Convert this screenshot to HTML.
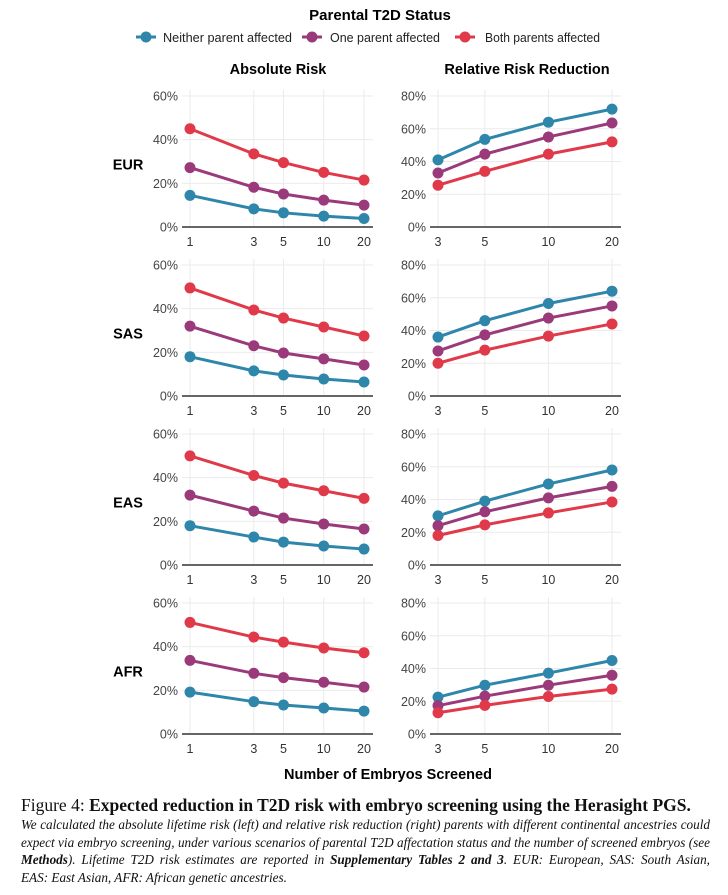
<!DOCTYPE html>
<html><head><meta charset="utf-8"><style>
body{margin:0;background:#fff;width:728px;height:895px;overflow:hidden;font-family:"Liberation Sans",sans-serif}
#cap{position:absolute;left:21px;top:794px;width:689px;font-family:"Liberation Serif",serif;color:#111}
#cap .t{font-size:17.5px;line-height:22px}
#cap .d{font-size:13.2px;font-style:italic;line-height:17.6px;white-space:nowrap}
#cap .j{text-align:justify;text-align-last:justify}
</style></head><body>
<svg id="chart" width="728" height="790" style="position:absolute;left:0;top:0" font-family="Liberation Sans, sans-serif">
<text x="380" y="20" text-anchor="middle" font-size="15" font-weight="bold">Parental T2D Status</text>
<g font-size="13" fill="#222">
 <g><line x1="136" y1="37" x2="156" y2="37" stroke="#2e86ab" stroke-width="3"/><circle cx="146" cy="37" r="5.5" fill="#2e86ab"/><text x="163" y="42" textLength="129" lengthAdjust="spacingAndGlyphs">Neither parent affected</text></g>
 <g><line x1="302" y1="37" x2="322" y2="37" stroke="#9b3a7b" stroke-width="3"/><circle cx="312" cy="37" r="5.5" fill="#9b3a7b"/><text x="330" y="42" textLength="110" lengthAdjust="spacingAndGlyphs">One parent affected</text></g>
 <g><line x1="455" y1="37" x2="475" y2="37" stroke="#e03a4a" stroke-width="3"/><circle cx="465" cy="37" r="5.5" fill="#e03a4a"/><text x="485" y="42" textLength="115" lengthAdjust="spacingAndGlyphs">Both parents affected</text></g>
</g>
<text x="278" y="74" text-anchor="middle" font-size="14.5" font-weight="bold">Absolute Risk</text>
<text x="527" y="74" text-anchor="middle" font-size="14.5" font-weight="bold">Relative Risk Reduction</text>
<text x="388" y="779" text-anchor="middle" font-size="14.5" font-weight="bold">Number of Embryos Screened</text>
<g id="plots"></g>
</svg>
<div id="cap">
<div class="t">Figure 4: <b>Expected reduction in T2D risk with embryo screening using the Herasight PGS.</b></div>
<div>
<div class="d j">We calculated the absolute lifetime risk (left) and relative risk reduction (right) parents with different continental ancestries could</div>
<div class="d j">expect via embryo screening, under various scenarios of parental T2D affectation status and the number of screened embryos (see</div>
<div class="d j"><b>Methods</b>). Lifetime T2D risk estimates are reported in <b>Supplementary Tables 2 and 3</b>. EUR: European, SAS: South Asian,</div>
<div class="d">EAS: East Asian, AFR: African genetic ancestries.</div>
</div>
</div>
<script>
const ancestries=["EUR","SAS","EAS","AFR"];
const absX=[1,3,5,10,20];
const rrrX=[3,5,10,20];
const absTicks=[0,20,40,60];
const rrrTicks=[0,20,40,60,80];
const seriesNames=["neither","one","both"];
const colors=["#2e86ab","#9b3a7b","#e03a4a"];
// absolute risk (%) per ancestry: [neither, one, both]
const absEUR=[[14.5,8.3,6.5,5.0,3.9],[27.2,18.2,15.1,12.3,10.0],[45,33.5,29.5,25,21.5]];
const absSAS=[[18,11.5,9.6,7.8,6.4],[32,23,19.7,17,14.2],[49.5,39.4,35.7,31.6,27.5]];
const absEAS=[[18,12.8,10.5,8.7,7.3],[32,24.7,21.5,18.8,16.5],[50,41,37.5,34,30.5]];
const absAFR=[[19.2,14.8,13.3,11.9,10.5],[33.7,27.8,25.8,23.7,21.5],[51.1,44.4,42.1,39.4,37.2]];
// relative risk reduction (%)
const rrrEUR=[[41,53.5,64,72],[33,44.5,55,63.5],[25.5,34,44.5,52]];
const rrrSAS=[[36,46,56.5,64],[27.5,37.3,47.6,55],[20,28,36.6,44]];
const rrrEAS=[[30,39,49.5,58],[24,32.5,41,48],[18,24.5,31.8,38.5]];
const rrrAFR=[[22.5,29.8,37.2,44.9],[17.3,23.1,29.8,35.9],[13,17.5,22.9,27.4]];
const absData=[absEUR,absSAS,absEAS,absAFR];
const rrrData=[rrrEUR,rrrSAS,rrrEAS,rrrAFR];

const NS="http://www.w3.org/2000/svg";
const g=document.getElementById('plots');
function mk(tag,attrs,parent){const e=document.createElementNS(NS,tag);for(const k in attrs)e.setAttribute(k,attrs[k]);(parent||g).appendChild(e);return e;}
function panel(row,type){
  const base=227+row*169, top=96+row*169, h=base-top;
  const isAbs=type==='abs';
  const xs=isAbs?absX:rrrX, ticks=isAbs?absTicks:rrrTicks, ymax=isAbs?60:80;
  const x0=isAbs?190:438, x1=isAbs?364:612, ax0=isAbs?182:430, ax1=isAbs?373:621;
  const lmin=Math.log(xs[0]), lmax=Math.log(xs[xs.length-1]);
  const xS=v=>x0+(Math.log(v)-lmin)/(lmax-lmin)*(x1-x0);
  const yS=v=>base-v/ymax*h;
  const pg=mk('g',{});
  
  
  xs.forEach(v=>{const l=mk('line',{x1:xS(v),x2:xS(v),y1:top-6,y2:base,stroke:'#ebebeb','stroke-width':1},pg);
    
    const t=mk('text',{x:xS(v),y:base+19,'text-anchor':'middle','font-size':12.5,fill:'#333'},pg);t.textContent=v;
    });
  ticks.forEach(v=>{const l=mk('line',{x1:ax0,x2:ax1,y1:yS(v),y2:yS(v),stroke:'#ebebeb','stroke-width':1},pg);
    
    const t=mk('text',{x:ax0-4,y:yS(v)+4.5,'text-anchor':'end','font-size':12.5,fill:'#444'},pg);t.textContent=v+'%';
    });
  const ax=mk('line',{x1:ax0,x2:ax1,y1:base,y2:base,stroke:'#666','stroke-width':2},pg);
  
  const data=(isAbs?absData:rrrData)[row];
  data.forEach((s,si)=>{
    const pts=s.map((v,i)=>xS(xs[i])+','+yS(v)).join(' ');
    const pl=mk('polyline',{points:pts,fill:'none',stroke:colors[si],'stroke-width':3},pg);
    
    s.forEach((v,i)=>{const c=mk('circle',{cx:xS(xs[i]),cy:yS(v),r:5.5,fill:colors[si]},pg);
      });
  });
  if(isAbs){const t=mk('text',{x:128,y:(top+base)/2+8,'text-anchor':'middle','font-size':14.5,'font-weight':'bold'},pg);t.textContent=ancestries[row];
    }
}
for(let r=0;r<4;r++){panel(r,'abs');panel(r,'rrr');}
</script>
</body></html>
